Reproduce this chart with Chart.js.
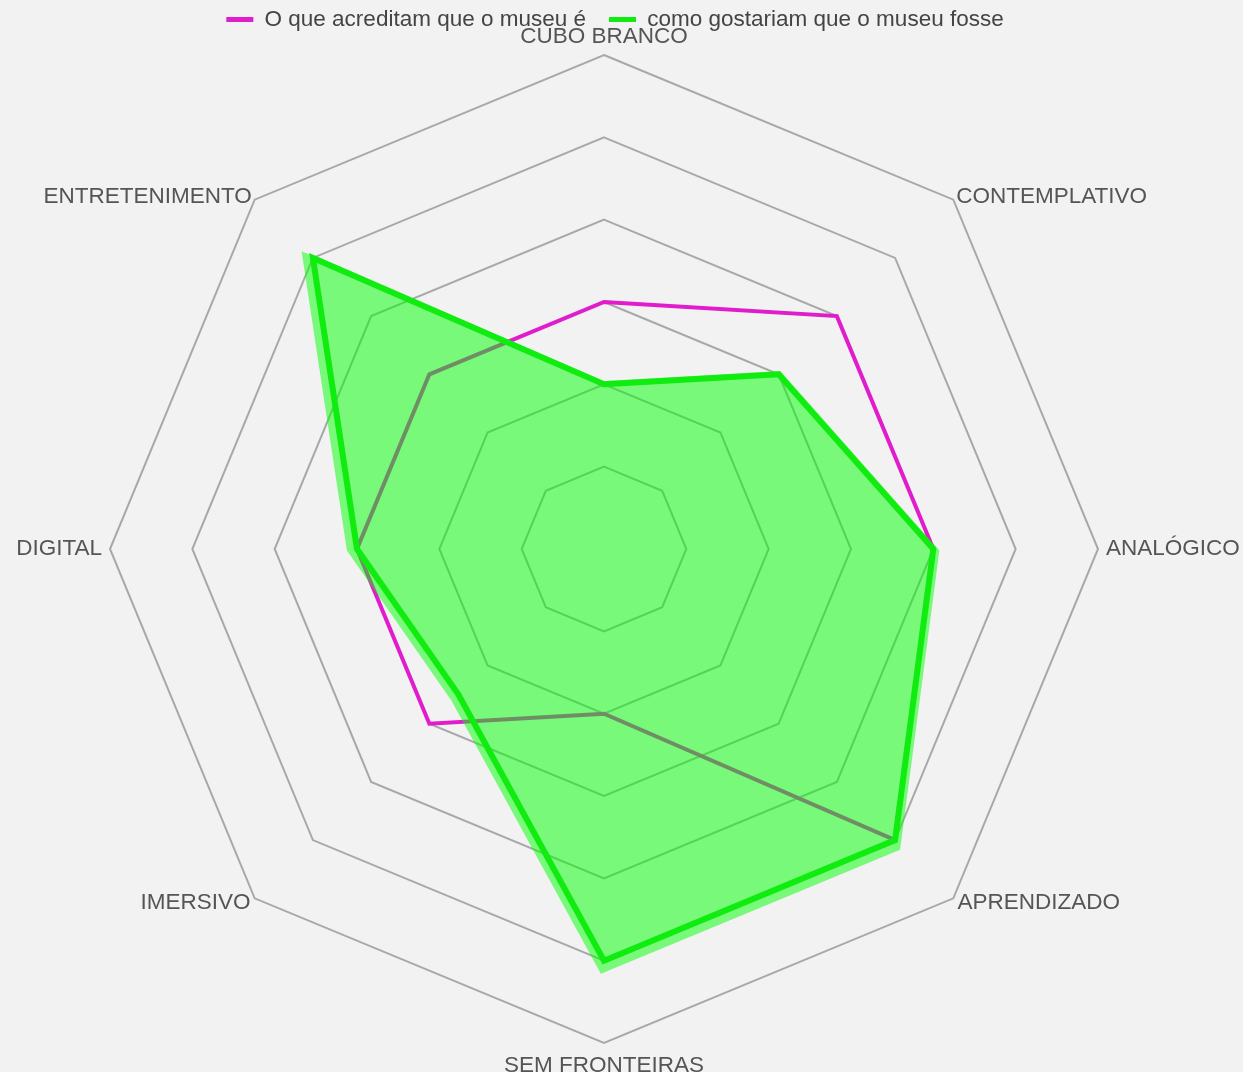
<!DOCTYPE html>
<html lang="pt">
<head>
<meta charset="utf-8">
<title>Museu</title>
<script src="https://cdn.jsdelivr.net/npm/chart.js"></script>
<style>
  html, body { margin: 0; padding: 0; background: #f2f2f2; }
  canvas { display: block; }
</style>
</head>
<body>
<canvas id="museuChart" width="1243" height="1072"></canvas>
<script>
const labels = ['CUBO BRANCO', 'CONTEMPLATIVO', 'ANALÓGICO', 'APRENDIZADO', 'SEM FRONTEIRAS', 'IMERSIVO', 'DIGITAL', 'ENTRETENIMENTO'];
const acreditam = [3, 4, 4, 5, 2, 3, 3, 3];
const gostariam = [2, 3, 4, 5, 5, 2.5, 3, 5];
const seriesNames = ['O que acreditam que o museu é', 'como gostariam que o museu fosse'];
const scaleMin = 0, scaleMax = 6, scaleStep = 1;

// the green area in the original sits a little off its outline, redraw it that way
const shiftedFill = {
    id: 'shiftedFill',
    beforeDatasetDraw(chart, args) {
        if (args.index !== 1) return;
        const r = chart.scales.r;
        const ctx = chart.ctx;
        const ox = r.xCenter + 113, oy = r.yCenter - 57, s = 1.028;
        ctx.save();
        ctx.translate(ox, oy);
        ctx.scale(s, s);
        ctx.translate(-ox, -oy);
        ctx.beginPath();
        args.meta.data.forEach((p, i) => i ? ctx.lineTo(p.x, p.y) : ctx.moveTo(p.x, p.y));
        ctx.closePath();
        ctx.fillStyle = 'rgba(0,255,0,0.5)';
        ctx.fill();
        ctx.restore();
    }
};

// place the web like the original (labels are allowed to run to the edges), then lay the labels out again
function placeWeb(scale) {
    const box = { left: scale.left, right: scale.right, top: scale.top, bottom: scale.bottom };
    scale.xCenter = 604;
    scale.yCenter = 549;
    scale.drawingArea = 494;
    Object.assign(scale, { left: -1e4, right: 1e4, top: -1e4, bottom: 1e4 });
    scale.fit();
    Object.assign(scale, box);
}

const isDiagonal = (c) => c.index % 2 === 1;
const isSide = (c) => c.index === 2 || c.index === 6;
const labelPad = (c) => c.index === 4 ? 9 : isSide(c) ? 8 : (c.index === 1 || c.index === 7) ? 4 : isDiagonal(c) ? 6 : 5;

const ctx = document.getElementById('museuChart').getContext('2d');
new Chart(ctx, {
    type: 'radar',
    data: {
        labels: labels,
        datasets: [
            { label: seriesNames[0], data: acreditam, borderColor: '#e01ccc', backgroundColor: 'rgba(0,0,0,0)', borderWidth: 4, fill: false, order: 2 },
            { label: seriesNames[1], data: gostariam, borderColor: '#10ec10', backgroundColor: 'rgba(0,255,0,0.5)', borderWidth: 6, fill: false, order: 1 }
        ]
    },
    options: {
        responsive: false,
        animation: false,
        devicePixelRatio: 1,
        layout: { padding: { left: -22, right: -9, top: -14.75, bottom: 0 } },
        elements: { point: { radius: 0, hoverRadius: 0 }, line: { tension: 0, borderJoinStyle: 'miter' } },
        plugins: {
            tooltip: { enabled: false },
            legend: {
                position: 'top',
                labels: {
                    color: '#444',
                    font: { family: 'Liberation Sans', size: 22.5 },
                    boxWidth: 27,
                    boxHeight: 5,
                    padding: 23,
                    sort: (a, b) => a.datasetIndex - b.datasetIndex,
                    generateLabels: (chart) => Chart.defaults.plugins.legend.labels.generateLabels(chart).map(l => ({ ...l, fillStyle: l.strokeStyle, lineWidth: 0 }))
                }
            }
        },
        scales: {
            r: {
                min: scaleMin,
                max: scaleMax,
                afterFit: placeWeb,
                ticks: { stepSize: scaleStep, display: false },
                angleLines: { display: false },
                grid: { color: '#a8a8a8', lineWidth: 2 },
                pointLabels: {
                    color: '#555',
                    padding: labelPad,
                    font: (c) => ({ family: 'Liberation Sans', size: 22.5, lineHeight: isDiagonal(c) ? '0px' : 1.2 })
                }
            }
        }
    },
    plugins: [shiftedFill]
});
</script>
</body>
</html>
